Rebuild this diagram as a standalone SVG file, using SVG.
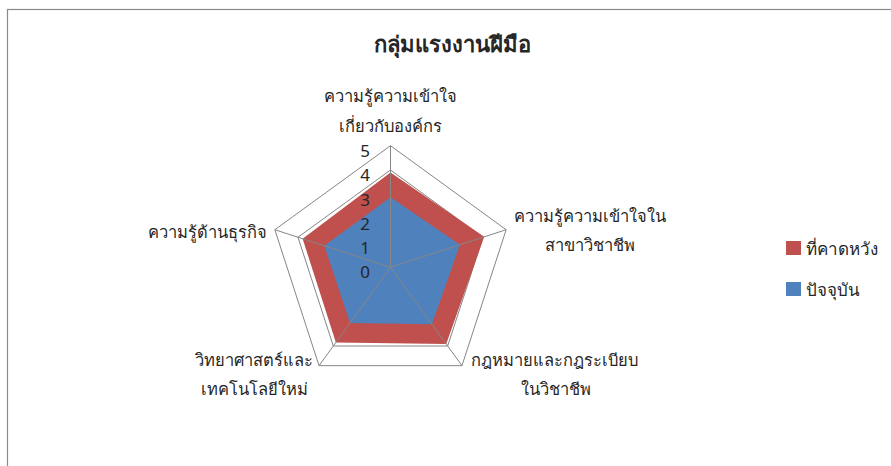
<svg xmlns="http://www.w3.org/2000/svg" width="891" height="466" viewBox="0 0 891 466">
<style>
  text { font-family: "Noto Sans", "DejaVu Sans", sans-serif; fill: #262626; }
  .title { font-size: 22px; font-weight: bold; text-anchor: middle; }
  .lbl { font-size: 16.5px; text-anchor: middle; }
  .tick { font-size: 17px; text-anchor: end; }
  .leg { font-size: 17px; }
  .grid { fill: none; stroke: #868686; stroke-width: 1; }
  .spoke { stroke: #868686; stroke-width: 1; }
</style>
<rect x="0" y="0" width="891" height="466" fill="#ffffff"/>
<rect id="frame" x="7.5" y="9.5" width="900" height="470" fill="none" stroke="#8a8a8a" stroke-width="1.2"/>
<text id="title" class="title" x="452" y="52">กลุ่มแรงงานฝีมือ</text>
<g id="grid">
  <polygon class="grid" points="390.5,145.7 506.15,229.73 461.98,365.67 319.02,365.67 274.85,229.73"/>
  <polygon class="grid" points="390.5,170.02 483.02,237.24 447.68,346 333.32,346 297.98,237.24"/>
</g>
<g id="series-expected">
  <polygon fill="#C0504D" points="390.5,172.45 484.18,236.86 446.25,344.03 335.89,342.46 302.62,238.75"/>
</g>
<g id="series-current">
  <polygon fill="#4F81BD" points="390.5,197.26 459.89,244.76 431.96,324.36 350.04,322.98 324.34,245.81"/>
</g>
<g id="connectors">
  <line class="spoke" x1="390.5" y1="267.3" x2="390.5" y2="145.7"/>
  <line class="spoke" x1="390.5" y1="267.3" x2="506.15" y2="229.73"/>
  <line class="spoke" x1="390.5" y1="267.3" x2="461.98" y2="365.67"/>
  <line class="spoke" x1="390.5" y1="267.3" x2="319.02" y2="365.67"/>
  <line class="spoke" x1="390.5" y1="267.3" x2="274.85" y2="229.73"/>
</g>
<g id="ticks">
  <text class="tick" x="370" y="157">5</text>
  <text class="tick" x="370" y="181">4</text>
  <text class="tick" x="370" y="205.5">3</text>
  <text class="tick" x="370" y="230">2</text>
  <text class="tick" x="370" y="254">1</text>
  <text class="tick" x="370" y="278">0</text>
</g>
<g id="axis-org">
  <text class="lbl" x="390.5" y="102">ความรู้ความเข้าใจ</text>
  <text class="lbl" x="390.5" y="132">เกี่ยวกับองค์กร</text>
</g>
<g id="axis-field">
  <text class="lbl" x="590" y="222">ความรู้ความเข้าใจใน</text>
  <text class="lbl" x="590" y="251">สาขาวิชาชีพ</text>
</g>
<g id="axis-law">
  <text class="lbl" x="554" y="366">กฎหมายและกฎระเบียบ</text>
  <text class="lbl" x="556" y="395">ในวิชาชีพ</text>
</g>
<g id="axis-sci">
  <text class="lbl" x="254" y="366">วิทยาศาสตร์และ</text>
  <text class="lbl" x="254" y="395">เทคโนโลยีใหม่</text>
</g>
<g id="axis-biz">
  <text class="lbl" x="207" y="238">ความรู้ด้านธุรกิจ</text>
</g>
<g id="legend">
  <rect x="786" y="241" width="15" height="14" fill="#C0504D"/>
  <text class="leg" x="806" y="255">ที่คาดหวัง</text>
  <rect x="786" y="282" width="15" height="14" fill="#4F81BD"/>
  <text class="leg" x="806" y="296">ปัจจุบัน</text>
</g>
</svg>
